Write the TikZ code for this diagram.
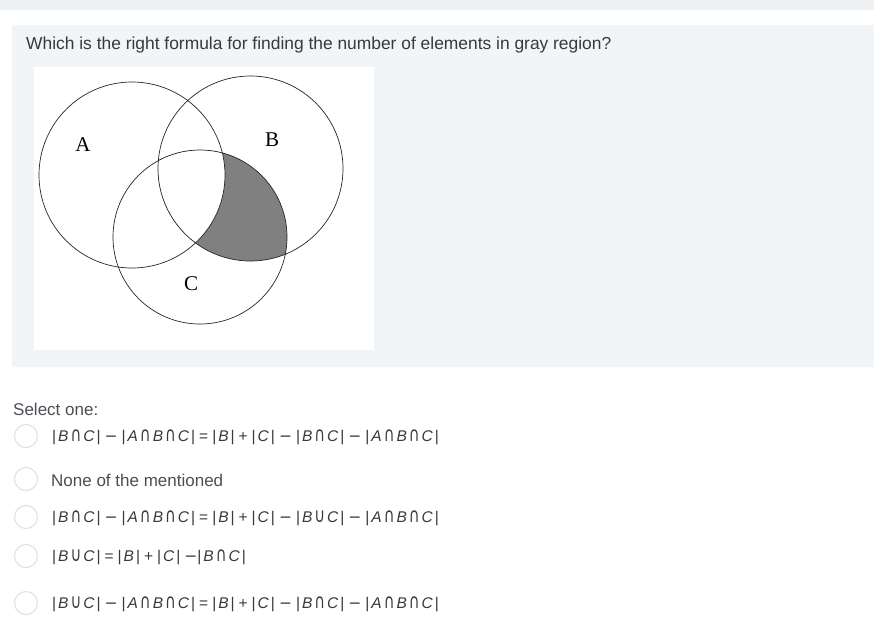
\documentclass[tikz,border=0pt]{standalone}
\usepackage{fontspec}
\setmainfont{Liberation Sans}
\newfontfamily\serifA{Liberation Serif}
\newfontfamily\symf{DejaVu Sans}
\definecolor{topband}{HTML}{EEF1F4}
\definecolor{panel}{HTML}{F2F5F8}
\definecolor{qtext}{HTML}{373A3C}
\definecolor{otext}{HTML}{4A4F55}
\definecolor{radio}{HTML}{DEE2E6}
\newcommand{\gp}{\hspace{2pt}}
\newcommand{\op}[1]{\hspace{4pt}#1\hspace{4pt}}
\newcommand{\bB}{\textit{B}}
\newcommand{\bA}{\textit{A}}
\newcommand{\bC}{\textit{C}}
\newcommand{\capx}{\gp\scalebox{0.95}[1.3]{\symf\char"2229}\gp}
\newcommand{\cupx}{\gp\scalebox{0.95}[1.3]{\symf\char"222A}\gp}
\newcommand{\mn}{{\symf\char"2212}}
\newcommand{\sBC}{|\gp\bB\capx\bC\gp|}
\newcommand{\sBuC}{|\gp\bB\cupx\bC\gp|}
\newcommand{\sABC}{|\gp\bA\capx\bB\capx\bC\gp|}
\newcommand{\sB}{|\gp\bB\gp|}
\newcommand{\sC}{|\gp\bC\gp|}
\begin{document}
\begin{tikzpicture}[x=1pt,y=-1pt,
  radiob/.style={circle,draw=radio,line width=1.1pt,fill=white,minimum size=23pt,inner sep=0pt},
  opt/.style={anchor=west,inner sep=0pt,text=qtext,font=\fontsize{15.5}{17}\selectfont},
  lbl/.style={inner sep=0pt,font=\serifA\fontsize{21}{23}\selectfont}]
\useasboundingbox (0,0) rectangle (874,641);
\fill[white] (0,0) rectangle (874,641);
\fill[topband] (0,0) rectangle (874,10);
\fill[panel,rounded corners=3pt] (12,25) rectangle (880,367);
\fill[white] (34,67) rectangle (374,350);
\node[anchor=west,inner sep=0pt,text=qtext,font=\fontsize{17.4}{20}\selectfont] (q) at (26,45) {Which is the right formula for finding the number of elements in gray region?};
% Venn
\begin{scope}
  \clip (250.5,168.5) circle (92.5);
  \fill[black!50] (200,237) circle (87);
  \clip (132,175) circle (93);
  \fill[white] (200,237) circle (87);
\end{scope}
\draw[line width=0.7pt,black!85] (132,175) circle (93);
\draw[line width=0.7pt,black!85] (250.5,168.5) circle (92.5);
\draw[line width=0.7pt,black!85] (200,237) circle (87);
\node[lbl] (la) at (83,145) {A};
\node[lbl] (lb) at (272,140) {B};
\node[lbl] (lc) at (191,284) {C};
% options
\node[anchor=west,inner sep=0pt,text=otext,font=\fontsize{17}{19}\selectfont] (sel) at (13,409) {Select one:};
\node[radiob] (r1) at (26,436) {};
\node[radiob] (r2) at (26,479) {};
\node[radiob] (r3) at (26,517) {};
\node[radiob] (r4) at (26,556) {};
\node[radiob] (r5) at (26,603) {};
\node[opt] (o1) at (52,437) {\sBC\op{\mn}\sABC\op{=}\sB\op{+}\sC\op{\mn}\sBC\op{\mn}\sABC};
\node[opt,text=otext,font=\fontsize{17}{19}\selectfont] (o2) at (51,480) {None of the mentioned};
\node[opt] (o3) at (52,518) {\sBC\op{\mn}\sABC\op{=}\sB\op{+}\sC\op{\mn}\sBuC\op{\mn}\sABC};
\node[opt] (o4) at (52,557) {\sBuC\op{=}\sB\op{+}\sC\hspace{4pt}\mn\sBC};
\node[opt] (o5) at (52,604) {\sBuC\op{\mn}\sABC\op{=}\sB\op{+}\sC\op{\mn}\sBC\op{\mn}\sABC};
\end{tikzpicture}
\end{document}
